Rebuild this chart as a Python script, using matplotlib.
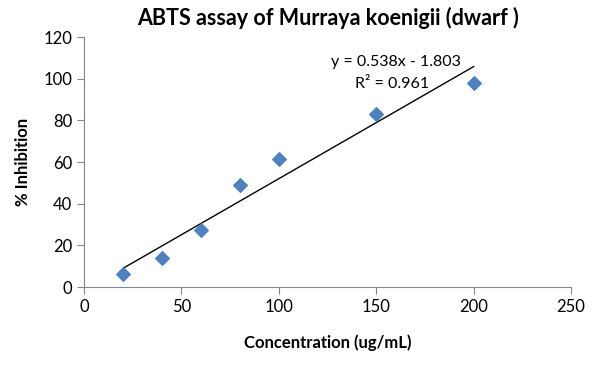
import numpy as np
import matplotlib
matplotlib.use("Agg")
import matplotlib.pyplot as plt

plt.rcParams['font.family'] = ['Lato', 'DejaVu Sans']

# datos
concentracion = [20, 40, 60, 80, 100, 150, 200]
inhibicion = [6.2, 13.8, 27.4, 49.1, 61.4, 82.9, 98.1]
pendiente = 0.538
intercepto = -1.803
r2 = 0.961

fig = plt.figure(figsize=(6.01, 3.66), dpi=100)
ax = fig.add_axes([0.1398, 0.2158, 0.8103, 0.6831])

ax.scatter(concentracion, inhibicion, marker="D", s=48, color="#4F81BD", zorder=3)

# linea de tendencia
xs = np.array([min(concentracion), max(concentracion)])
ax.plot(xs, pendiente * xs + intercepto, color="black", lw=1, zorder=2)

ax.text(160, 108, f"y = {pendiente}x - {abs(intercepto)}", ha="center", va="center", fontsize=11.5)
ax.text(158, 97.5, f"R² = {r2}", ha="center", va="center", fontsize=11.5)

ax.set_xlim(0, 250)
ax.set_ylim(0, 120)
ax.set_xticks(range(0, 251, 50))
ax.set_yticks(range(0, 121, 20))

for s in ["top", "right"]:
    ax.spines[s].set_visible(False)
for s in ["left", "bottom"]:
    ax.spines[s].set_color("#868686")
ax.tick_params(colors="#868686", labelcolor="black", labelsize=12, length=5)

ax.set_title("ABTS assay of Murraya koenigii (dwarf )", fontsize=15.5, fontweight="bold", pad=9)
ax.set_xlabel("Concentration (ug/mL)", fontsize=12, fontweight="bold", labelpad=14)
ax.set_ylabel("% Inhibition", fontsize=12, fontweight="bold", labelpad=9)

fig.savefig("out.png", dpi=100)
